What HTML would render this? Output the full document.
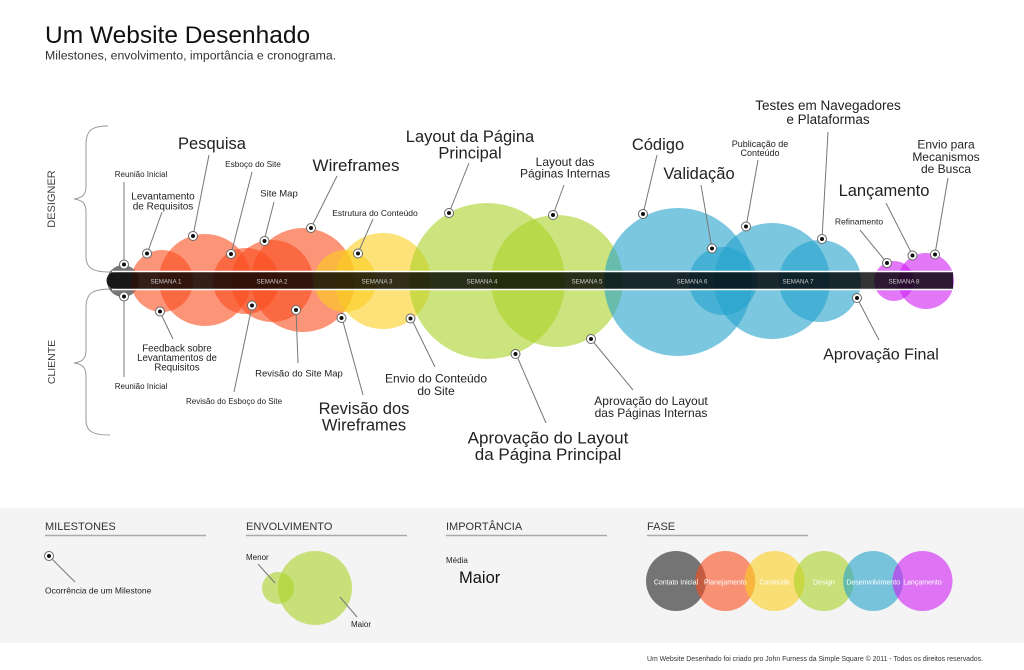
<!DOCTYPE html>
<html><head><meta charset="utf-8"><style>
html,body{margin:0;padding:0;background:#fff;}
svg{display:block;font-family:"Liberation Sans",sans-serif;}
</style></head><body>
<svg width="1024" height="670" viewBox="0 0 1024 670" xmlns="http://www.w3.org/2000/svg">
<rect width="1024" height="670" fill="#fff"/>
<text x="45" y="43" font-size="24.5" fill="#111">Um Website Desenhado</text>
<text x="45" y="59.5" font-size="12.3" fill="#333">Milestones, envolvimento, importância e cronograma.</text>

<!-- braces -->
<g fill="none" stroke="#999" stroke-width="1">
<path d="M108,126 C92,126 86,130 86,145 L86,186 C86,195 82,198 74,199 C82,200 86,203 86,212 L86,256 C86,268 92,272 110,272"/>
<path d="M112,289 C92,289 86,293 86,308 L86,350 C86,359 82,362 74,363 C82,364 86,367 86,376 L86,420 C86,431 92,435 110,435"/>
</g>
<text transform="translate(55,199) rotate(-90)" text-anchor="middle" font-size="11" fill="#444">DESIGNER</text>
<text transform="translate(55,362) rotate(-90)" text-anchor="middle" font-size="10.5" fill="#444">CLIENTE</text>

<!-- circles -->
<g>
<circle cx="123" cy="281" r="16" fill="rgba(30,30,30,0.6)"/>
<circle cx="162" cy="281" r="31" fill="rgba(250,77,30,0.6)"/>
<circle cx="205" cy="280" r="46" fill="rgba(250,77,30,0.6)"/>
<circle cx="246" cy="281" r="33" fill="rgba(250,77,30,0.6)"/>
<circle cx="272" cy="281" r="41" fill="rgba(250,77,30,0.6)"/>
<circle cx="303" cy="280" r="52" fill="rgba(250,77,30,0.6)"/>
<circle cx="345" cy="281" r="31" fill="rgba(250,207,30,0.6)"/>
<circle cx="383" cy="281" r="48" fill="rgba(250,207,30,0.6)"/>
<circle cx="487" cy="281" r="78" fill="rgba(170,210,38,0.6)"/>
<circle cx="557" cy="281" r="66" fill="rgba(170,210,38,0.6)"/>
<circle cx="678" cy="282" r="74" fill="rgba(35,162,203,0.6)"/>
<circle cx="723" cy="281" r="34" fill="rgba(35,162,203,0.6)"/>
<circle cx="772" cy="281" r="58" fill="rgba(35,162,203,0.6)"/>
<circle cx="820" cy="281" r="41" fill="rgba(35,162,203,0.6)"/>
<circle cx="894" cy="281" r="20" fill="rgba(207,30,243,0.6)"/>
<circle cx="926" cy="281" r="28" fill="rgba(207,30,243,0.6)"/>
</g>

<!-- bar -->
<path d="M115,272 L953,272 L953,289 L115,289 A8.5,8.5 0 0 1 115,272 Z" fill="rgba(0,0,0,0.8)"/>
<line x1="112" y1="271.5" x2="953" y2="271.5" stroke="#fff" stroke-width="1.5"/>
<line x1="112" y1="289.5" x2="953" y2="289.5" stroke="#fff" stroke-width="1.5"/>
<g font-size="6.2" fill="#ccc" text-anchor="middle">
<text x="166" y="283.3">SEMANA 1</text>
<text x="272" y="283.3">SEMANA 2</text>
<text x="377" y="283.3">SEMANA 3</text>
<text x="482" y="283.3">SEMANA 4</text>
<text x="587" y="283.3">SEMANA 5</text>
<text x="692" y="283.3">SEMANA 6</text>
<text x="798" y="283.3">SEMANA 7</text>
<text x="904" y="283.3">SEMANA 8</text>
</g>

<!-- leader lines -->
<g stroke="#777" stroke-width="1">
<line x1="124" y1="264" x2="124" y2="182"/>
<line x1="147" y1="254" x2="162" y2="212"/>
<line x1="193" y1="236" x2="209" y2="155"/>
<line x1="231" y1="254" x2="252" y2="172"/>
<line x1="264" y1="241" x2="274" y2="202"/>
<line x1="311" y1="228" x2="337" y2="176"/>
<line x1="358" y1="253" x2="373" y2="219"/>
<line x1="449" y1="213" x2="469" y2="163"/>
<line x1="553" y1="215" x2="564" y2="185"/>
<line x1="643" y1="214" x2="657" y2="155"/>
<line x1="712" y1="249" x2="701" y2="185"/>
<line x1="746" y1="227" x2="758" y2="160"/>
<line x1="822" y1="239" x2="828" y2="132"/>
<line x1="887" y1="263" x2="860" y2="230"/>
<line x1="913" y1="256" x2="886" y2="203"/>
<line x1="935" y1="254" x2="948" y2="178"/>
<line x1="124" y1="297" x2="124" y2="377"/>
<line x1="160" y1="312" x2="173" y2="339"/>
<line x1="252" y1="306" x2="234" y2="392"/>
<line x1="296" y1="310" x2="298" y2="363"/>
<line x1="342" y1="318" x2="363" y2="395"/>
<line x1="411" y1="318" x2="435" y2="367"/>
<line x1="516" y1="354" x2="546" y2="423"/>
<line x1="591" y1="339" x2="633" y2="390"/>
<line x1="857" y1="298" x2="879" y2="340"/>
</g>

<!-- milestone dots -->
<g fill="#fff" stroke="#666" stroke-width="1">
<circle cx="124" cy="264.5" r="4.5"/><circle cx="147" cy="253.5" r="4.5"/><circle cx="193" cy="236" r="4.5"/>
<circle cx="231" cy="254" r="4.5"/><circle cx="264.5" cy="241" r="4.5"/><circle cx="311" cy="228" r="4.5"/>
<circle cx="358" cy="253.5" r="4.5"/><circle cx="449" cy="213" r="4.5"/><circle cx="553" cy="215" r="4.5"/>
<circle cx="643" cy="214" r="4.5"/><circle cx="712" cy="248.5" r="4.5"/><circle cx="746" cy="226.5" r="4.5"/>
<circle cx="822" cy="239" r="4.5"/><circle cx="887" cy="263" r="4.5"/><circle cx="912.5" cy="255.5" r="4.5"/>
<circle cx="935" cy="254.5" r="4.5"/>
<circle cx="124" cy="296.5" r="4.5"/><circle cx="160" cy="311.5" r="4.5"/><circle cx="252" cy="305.5" r="4.5"/>
<circle cx="296" cy="310" r="4.5"/><circle cx="341.5" cy="318" r="4.5"/><circle cx="410.5" cy="318.5" r="4.5"/>
<circle cx="515.5" cy="354" r="4.5"/><circle cx="591" cy="339" r="4.5"/><circle cx="857" cy="298" r="4.5"/>
</g>
<g fill="#111">
<circle cx="124" cy="264.5" r="2"/><circle cx="147" cy="253.5" r="2"/><circle cx="193" cy="236" r="2"/>
<circle cx="231" cy="254" r="2"/><circle cx="264.5" cy="241" r="2"/><circle cx="311" cy="228" r="2"/>
<circle cx="358" cy="253.5" r="2"/><circle cx="449" cy="213" r="2"/><circle cx="553" cy="215" r="2"/>
<circle cx="643" cy="214" r="2"/><circle cx="712" cy="248.5" r="2"/><circle cx="746" cy="226.5" r="2"/>
<circle cx="822" cy="239" r="2"/><circle cx="887" cy="263" r="2"/><circle cx="912.5" cy="255.5" r="2"/>
<circle cx="935" cy="254.5" r="2"/>
<circle cx="124" cy="296.5" r="2"/><circle cx="160" cy="311.5" r="2"/><circle cx="252" cy="305.5" r="2"/>
<circle cx="296" cy="310" r="2"/><circle cx="341.5" cy="318" r="2"/><circle cx="410.5" cy="318.5" r="2"/>
<circle cx="515.5" cy="354" r="2"/><circle cx="591" cy="339" r="2"/><circle cx="857" cy="298" r="2"/>
</g>

<!-- labels top -->
<g fill="#222" text-anchor="middle">
<text x="141" y="177" font-size="8">Reunião Inicial</text>
<text x="163" y="199.5" font-size="10">Levantamento</text>
<text x="163" y="209.5" font-size="10">de Requisitos</text>
<text x="212" y="149" font-size="16.5">Pesquisa</text>
<text x="253" y="167" font-size="8.3">Esboço do Site</text>
<text x="279" y="196.5" font-size="9.5">Site Map</text>
<text x="356" y="171" font-size="17">Wireframes</text>
<text x="375" y="216" font-size="8.5">Estrutura do Conteúdo</text>
<text x="470" y="142" font-size="16.5">Layout da Página</text>
<text x="470" y="158.5" font-size="16.5">Principal</text>
<text x="565" y="166" font-size="12">Layout das</text>
<text x="565" y="177.5" font-size="12">Páginas Internas</text>
<text x="658" y="150" font-size="16.5">Código</text>
<text x="699" y="179" font-size="16.5">Validação</text>
<text x="760" y="147" font-size="9">Publicação de</text>
<text x="760" y="156" font-size="9">Conteúdo</text>
<text x="828" y="110" font-size="13.5">Testes em Navegadores</text>
<text x="828" y="124" font-size="13.5">e Plataformas</text>
<text x="859" y="224.5" font-size="8.5">Refinamento</text>
<text x="884" y="196" font-size="16.5">Lançamento</text>
<text x="946" y="148.5" font-size="12">Envio para</text>
<text x="946" y="161" font-size="12">Mecanismos</text>
<text x="946" y="173" font-size="12">de Busca</text>
<!-- bottom -->
<text x="141" y="389" font-size="8">Reunião Inicial</text>
<text x="177" y="351.5" font-size="9.7">Feedback sobre</text>
<text x="177" y="361" font-size="9.7">Levantamentos de</text>
<text x="177" y="370.7" font-size="9.7">Requisitos</text>
<text x="234" y="404" font-size="8">Revisão do Esboço do Site</text>
<text x="299" y="376.5" font-size="9.5">Revisão do Site Map</text>
<text x="364" y="414" font-size="16.5">Revisão dos</text>
<text x="364" y="430.5" font-size="16.5">Wireframes</text>
<text x="436" y="382.7" font-size="12">Envio do Conteúdo</text>
<text x="436" y="395" font-size="12">do Site</text>
<text x="548" y="443.5" font-size="17">Aprovação do Layout</text>
<text x="548" y="460" font-size="17">da Página Principal</text>
<text x="651" y="405" font-size="12">Aprovação do Layout</text>
<text x="651" y="417" font-size="12">das Páginas Internas</text>
<text x="881" y="359.5" font-size="16">Aprovação Final</text>
</g>

<!-- legend band -->
<rect x="0" y="508" width="1024" height="135" fill="#f4f4f4"/>
<g font-size="11" fill="#333">
<text x="45" y="530">MILESTONES</text>
<text x="246" y="530">ENVOLVIMENTO</text>
<text x="446" y="530">IMPORTÂNCIA</text>
<text x="647" y="530">FASE</text>
</g>
<g stroke="#aaa" stroke-width="1.5">
<line x1="45" y1="535.5" x2="206" y2="535.5"/>
<line x1="246" y1="535.5" x2="407" y2="535.5"/>
<line x1="446" y1="535.5" x2="607" y2="535.5"/>
<line x1="647" y1="535.5" x2="808" y2="535.5"/>
</g>
<g stroke="#777" stroke-width="1">
<line x1="49" y1="556" x2="75" y2="582"/>
</g>
<circle cx="49" cy="556" r="4.5" fill="#fff" stroke="#666" stroke-width="1"/>
<circle cx="49" cy="556" r="2" fill="#111"/>
<text x="45" y="593.5" font-size="8.5" fill="#222">Ocorrência de um Milestone</text>

<circle cx="278" cy="588" r="16" fill="rgba(170,210,38,0.6)"/>
<circle cx="315" cy="588" r="37" fill="rgba(170,210,38,0.6)"/>
<g stroke="#777" stroke-width="1">
<line x1="258" y1="564" x2="275" y2="583"/>
<line x1="340" y1="597" x2="357" y2="617"/>
</g>
<text x="246" y="560" font-size="8" fill="#222">Menor</text>
<text x="351" y="627" font-size="8" fill="#222">Maior</text>

<text x="446" y="563" font-size="8" fill="#222">Média</text>
<text x="459" y="583" font-size="16.5" fill="#111">Maior</text>

<g>
<circle cx="676" cy="581" r="30" fill="rgba(30,30,30,0.6)"/>
<circle cx="725.3" cy="581" r="30" fill="rgba(250,77,30,0.6)"/>
<circle cx="774.6" cy="581" r="30" fill="rgba(250,207,30,0.6)"/>
<circle cx="823.9" cy="581" r="30" fill="rgba(170,210,38,0.6)"/>
<circle cx="873.2" cy="581" r="30" fill="rgba(35,162,203,0.6)"/>
<circle cx="922.5" cy="581" r="30" fill="rgba(207,30,243,0.6)"/>
</g>
<g font-size="7" fill="#fff" text-anchor="middle">
<text x="676" y="584.5">Contato Inicial</text>
<text x="725.3" y="584.5">Planejamento</text>
<text x="774.6" y="584.5">Conteúdo</text>
<text x="823.9" y="584.5">Design</text>
<text x="873.2" y="584.5">Desenvolvimento</text>
<text x="922.5" y="584.5">Lançamento</text>
</g>

<text x="647" y="661" font-size="6.9" fill="#333">Um Website Desenhado foi criado pro John Furness da Simple Square © 2011 - Todos os direitos reservados.</text>
</svg>
</body></html>
